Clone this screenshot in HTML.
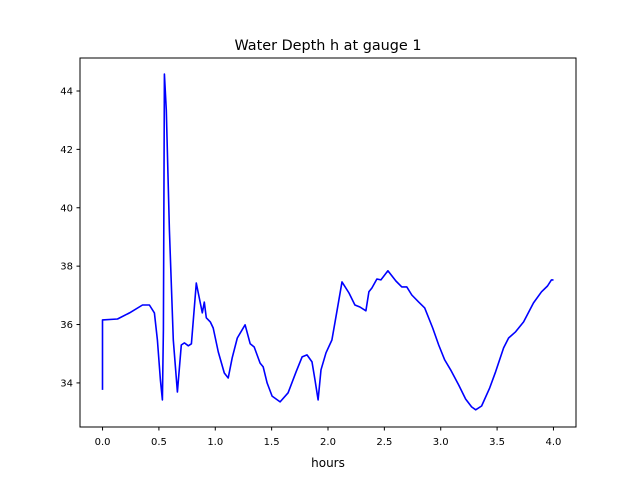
<!DOCTYPE html>
<html><head><meta charset="utf-8"><style>
body{margin:0;background:#fff;font-family:"Liberation Sans","DejaVu Sans",sans-serif;}
svg text{font-family:"DejaVu Sans","Liberation Sans",sans-serif;}
</style></head><body>
<svg id="chart" width="640" height="480">
<rect width="640" height="480" fill="#fff"/>
<text x="328" y="50" font-size="14.4" text-anchor="middle">Water Depth h at gauge 1</text>
<g id="plot"></g>
<rect x="80" y="58" width="496" height="369" fill="none" stroke="#000" stroke-width="1"/>
<text x="328" y="467" font-size="12" text-anchor="middle">hours</text>
</svg>
<script>
const times=[0,0,.133,.239,.354,.416,.460,.487,.513,.531,.540,.549,.566,.593,.628,.664,.699,.726,.761,.788,.832,.858,.885,.903,.920,.956,.982,1.027,1.080,1.115,1.150,1.195,1.265,1.310,1.345,1.398,1.425,1.460,1.504,1.575,1.646,1.717,1.770,1.814,1.858,1.885,1.912,1.938,1.982,2.035,2.080,2.124,2.186,2.239,2.283,2.336,2.363,2.389,2.434,2.469,2.531,2.602,2.655,2.699,2.743,2.805,2.858,2.929,2.982,3.035,3.088,3.159,3.221,3.274,3.310,3.363,3.434,3.487,3.558,3.602,3.664,3.735,3.823,3.894,3.947,3.982,4.0];
const depths=[33.76,36.16,36.19,36.40,36.67,36.67,36.40,35.47,34.10,33.42,35.82,44.58,43.35,39.24,35.47,33.69,35.30,35.37,35.27,35.34,37.42,36.91,36.40,36.77,36.23,36.09,35.88,35.06,34.34,34.17,34.86,35.54,35.99,35.34,35.23,34.68,34.55,34.00,33.55,33.35,33.66,34.38,34.89,34.96,34.72,34.10,33.42,34.45,35.03,35.47,36.47,37.46,37.08,36.67,36.60,36.47,37.12,37.25,37.56,37.53,37.84,37.49,37.29,37.29,37.01,36.77,36.57,35.88,35.30,34.79,34.45,33.93,33.45,33.18,33.08,33.21,33.83,34.38,35.20,35.54,35.75,36.09,36.74,37.12,37.32,37.53,37.53];
const xTicks=[0,0.5,1,1.5,2,2.5,3,3.5,4];
const xTickLabels=["0.0","0.5","1.0","1.5","2.0","2.5","3.0","3.5","4.0"];
const yTicks=[34,36,38,40,42,44];
const yTickLabels=["34","36","38","40","42","44"];
const NS="http://www.w3.org/2000/svg";
const X0=80,X1=576,Y0=427,Y1=58,xmin=-0.2,xmax=4.2,ymin=32.49,ymax=45.13;
function xs(v){return X0+(v-xmin)/(xmax-xmin)*(X1-X0);}
function ys(v){return Y0-(v-ymin)/(ymax-ymin)*(Y0-Y1);}
const g=document.getElementById('plot');
function mk(t,a){const e=document.createElementNS(NS,t);for(const k in a)e.setAttribute(k,a[k]);g.appendChild(e);return e;}
xTicks.forEach((v,i)=>{
 const l=mk('line',{x1:xs(v),x2:xs(v),y1:427,y2:430.5,stroke:'#000'});
 
 
 const t=mk('text',{x:xs(v),y:445,'font-size':10,'text-anchor':'middle'});
 t.textContent=xTickLabels[i];
 
 
});
yTicks.forEach((v,i)=>{
 const l=mk('line',{x1:76.5,x2:80,y1:ys(v),y2:ys(v),stroke:'#000'});
 
 
 const t=mk('text',{x:73,y:ys(v)+3.5,'font-size':10,'text-anchor':'end'});
 t.textContent=yTickLabels[i];
 
 
});
const pts=times.map((t,i)=>xs(t).toFixed(1)+','+ys(depths[i]).toFixed(1)).join(' ');
const line=mk('polyline',{points:pts,fill:'none',stroke:'#0000ff','stroke-width':1.6,'stroke-linejoin':'round'});


</script>
</body></html>
